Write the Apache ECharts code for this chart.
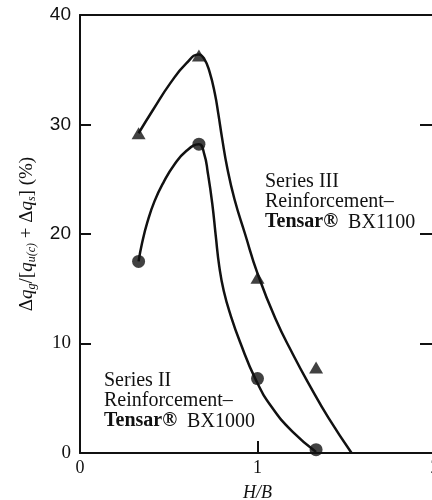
<!DOCTYPE html>
<html>
<head>
<meta charset="utf-8">
<script src="https://cdn.jsdelivr.net/npm/echarts@6/dist/echarts.min.js"></script>
<style>
html,body{margin:0;padding:0;background:#fff;}
#c{width:432px;height:500px;}
</style>
</head>
<body>
<div id="c"></div>
<script>
// H/B values of the measured points
const hbValues = [0.33, 0.67, 1.0, 1.33];
// Series III (Tensar BX1100) measured points, %
const seriesIIIValues = [29.2, 36.3, 16.0, 7.8];
// Series II (Tensar BX1000) measured points, %
const seriesIIValues = [17.5, 28.2, 6.8, 0.3];
// Fitted curve, Series III
const curveIII_x = [0.33, 0.41, 0.51, 0.60, 0.67, 0.70, 0.73, 0.76, 0.78, 0.80, 0.83, 0.87, 0.93, 1.00, 1.10, 1.20, 1.30, 1.40, 1.53];
const curveIII_y = [29.2, 31.3, 33.8, 35.6, 36.4, 36.0, 34.8, 32.8, 30.9, 28.8, 26.0, 23.2, 20.0, 16.4, 12.3, 9.0, 6.0, 3.2, 0.0];
// Fitted curve, Series II
const curveII_x = [0.33, 0.35, 0.38, 0.42, 0.47, 0.53, 0.60, 0.67, 0.70, 0.72, 0.745, 0.765, 0.785, 0.81, 0.85, 0.90, 0.99, 1.08, 1.20, 1.33];
const curveII_y = [17.5, 19.2, 21.1, 23.0, 24.7, 26.3, 27.6, 28.2, 27.3, 25.6, 22.8, 19.8, 17.0, 14.8, 12.5, 10.2, 6.7, 4.2, 1.9, 0.1];
// Tick labels
const xTickLabels = ['0', '1', '2'];
const yTickLabels = ['0', '10', '20', '30', '40'];

const zip = (xs, ys) => xs.map((x, i) => [x, ys[i]]);
const ink = '#111';
const serif = '"Liberation Serif", "DejaVu Serif", serif';
const sans = '"Liberation Sans", Arial, sans-serif';

const chart = echarts.init(document.getElementById('c'));
chart.setOption({
  backgroundColor: '#fff',
  animation: false,
  grid: { left: 80, top: 15, right: -3, bottom: 47, outerBoundsMode: 'none', containLabel: false },
  xAxis: [{
    type: 'value', min: 0, max: 2, interval: 1, position: 'bottom',
    name: 'H/B', nameLocation: 'middle', nameGap: 31,
    nameTextStyle: { fontFamily: serif, fontStyle: 'italic', fontSize: 18, color: ink },
    axisLine: { show: true, onZero: false, lineStyle: { color: ink, width: 2 } },
    axisTick: { show: true, inside: true, length: 12, lineStyle: { color: ink, width: 2 } },
    axisLabel: { margin: 6, fontFamily: serif, fontSize: 18, color: ink,
      formatter: v => xTickLabels[Math.round(v)] },
    splitLine: { show: false }
  }, {
    type: 'value', min: 0, max: 2, interval: 1, position: 'top',
    axisLine: { show: true, onZero: false, lineStyle: { color: ink, width: 2 } },
    axisTick: { show: false }, axisLabel: { show: false }, splitLine: { show: false }
  }],
  yAxis: [{
    type: 'value', min: 0, max: 40, interval: 10, position: 'left',
    name: '{t|Δ}{i|q}{s|g}{t|/[}{i|q}{s|u(c)}{t| + Δ}{i|q}{s|s}{t|] (%)}',
    nameLocation: 'middle', nameGap: 42, nameRotate: 90,
    nameTextStyle: {
      color: ink,
      rich: {
        t: { fontFamily: serif, fontSize: 19, color: ink, lineHeight: 22 },
        i: { fontFamily: serif, fontSize: 19, fontStyle: 'italic', color: ink, lineHeight: 22 },
        s: { fontFamily: serif, fontSize: 12, fontStyle: 'italic', color: ink, lineHeight: 22, verticalAlign: 'bottom', padding: [8, 0, 0, 0] }
      }
    },
    axisLine: { show: true, onZero: false, lineStyle: { color: ink, width: 2 } },
    axisTick: { show: true, inside: true, length: 11, lineStyle: { color: ink, width: 2 } },
    axisLabel: { margin: 9, color: ink,
      formatter: v => {
        const s = yTickLabels[Math.round(v / 10)];
        return v >= 20 ? '{a|' + s + '}' : '{b|' + s + '}';
      },
      rich: {
        a: { fontFamily: sans, fontSize: 19, color: ink },
        b: { fontFamily: serif, fontSize: 19, color: ink }
      }
    },
    splitLine: { show: false }
  }, {
    type: 'value', min: 0, max: 40, interval: 10, position: 'right',
    axisLine: { show: true, onZero: false, lineStyle: { color: ink, width: 2 } },
    axisTick: { show: true, inside: true, length: 15, lineStyle: { color: ink, width: 2 } },
    axisLabel: { show: false }, splitLine: { show: false }
  }],
  series: [
    { type: 'line', data: zip(curveIII_x, curveIII_y), smooth: 0.5, symbol: 'none',
      lineStyle: { color: ink, width: 2.5 }, z: 2 },
    { type: 'line', data: zip(curveII_x, curveII_y), smooth: 0.5, symbol: 'none',
      lineStyle: { color: ink, width: 2.5 }, z: 2 },
    { type: 'scatter', data: zip(hbValues, seriesIIIValues), symbol: 'triangle', symbolSize: [14, 12],
      itemStyle: { color: ink }, z: 3 },
    { type: 'scatter', data: zip(hbValues, seriesIIValues), symbol: 'circle', symbolSize: 13,
      itemStyle: { color: ink }, z: 3 }
  ],
  graphic: [
    { type: 'text', left: 265, top: 171, style: {
        text: 'Series III\nReinforcement–\n{b|Tensar®}  BX1100',
        fontFamily: serif, fontSize: 20, lineHeight: 20.5, fill: ink,
        rich: { b: { fontFamily: serif, fontSize: 20, fontWeight: 'bold', fill: ink, lineHeight: 20.5 } } } },
    { type: 'text', left: 104, top: 370, style: {
        text: 'Series II\nReinforcement–\n{b|Tensar®}  BX1000',
        fontFamily: serif, fontSize: 20, lineHeight: 20.5, fill: ink,
        rich: { b: { fontFamily: serif, fontSize: 20, fontWeight: 'bold', fill: ink, lineHeight: 20.5 } } } }
  ]
});
</script>
</body>
</html>
